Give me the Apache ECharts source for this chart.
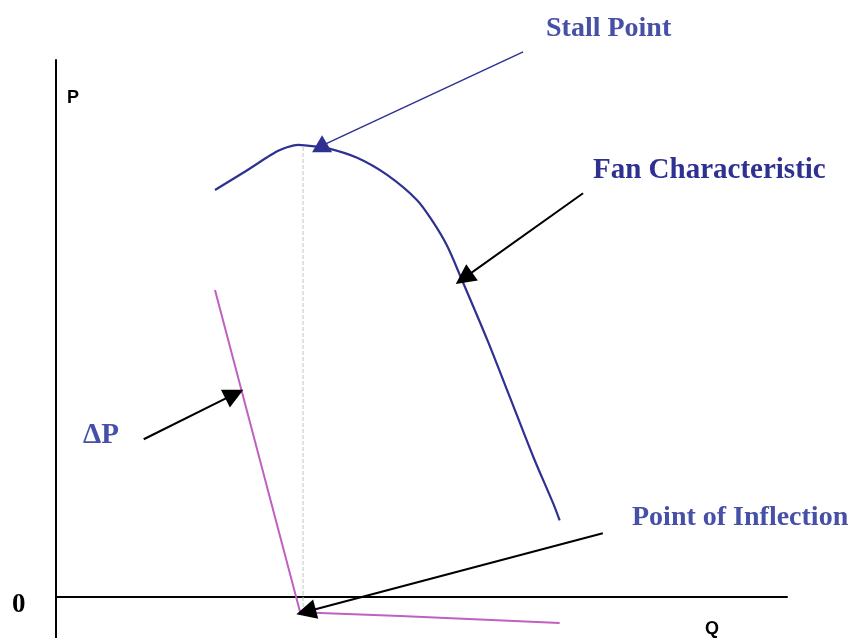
<!DOCTYPE html>
<html>
<head>
<meta charset="utf-8">
<script src="https://cdn.jsdelivr.net/npm/echarts@6/dist/echarts.min.js"></script>
<style>
html, body { margin: 0; padding: 0; background: #fff; }
#box1 { width: 851px; height: 638px; }
</style>
</head>
<body>
<div id="box1"></div>
<script>
var dom = document.getElementById("box1");
var myChart = echarts.init(dom);

// fan characteristic (Q, P)
var fanQ = [21.75, 25.6, 28.9, 30.4, 31.7, 33.1, 34.75, 37.1, 41.2, 45.3, 49.4, 51.6, 53.5, 55.3, 59.0, 62.1, 65.3, 68.0, 68.9];
var fanP = [75.8, 79.0, 81.9, 83.1, 83.8, 84.2, 84.0, 83.6, 81.8, 78.6, 73.9, 69.8, 65.4, 59.8, 47.9, 37.2, 26.1, 17.5, 14.3];

// pressure difference line
var dpQ = [21.75, 33.4, 47.1, 68.9];
var dpP = [57.2, -2.8, -3.5, -4.8];

// stall marker
var stallQ = 33.8;
var stallTop = 83.8;
var stallBottom = -3.2;

// annotation arrows [fromQ, fromP, toQ, toP]
var stallArrow = [63.9, 101.5, 36.6, 84.2];
var arrows = [
    [72.1, 75.2, 55.8, 59.4],
    [12.0, 29.4, 24.4, 37.8],
    [74.8, 11.9, 34.2, -2.7]
];

function zip(a, b) {
    var res = [];
    for (var i = 0; i < a.length; i++) {
        res.push([a[i], b[i]]);
    }
    return res;
}

var arrowData = arrows.map(function(a) {
    return { coords: [[a[0], a[1]], [a[2], a[3]]] };
});

var serifFont = '"Liberation Serif", "Times New Roman", serif';

option = {
    backgroundColor: '#fff',
    animation: false,
    grid: {
        left: 56,
        right: 64,
        top: 60,
        bottom: 0,
        containLabel: false
    },
    xAxis: {
        type: 'value',
        min: 0,
        max: 100,
        axisLine: { show: true, onZero: true, lineStyle: { color: '#000', width: 2 } },
        axisTick: { show: false },
        axisLabel: { show: false },
        splitLine: { show: false }
    },
    yAxis: {
        type: 'value',
        min: -7.6,
        max: 100,
        axisLine: { show: true, lineStyle: { color: '#000', width: 2 } },
        axisTick: { show: false },
        axisLabel: { show: false },
        splitLine: { show: false }
    },
    graphic: [
        { type: 'text', left: 546, top: 15, style: { text: 'Stall Point', font: 'bold 28px ' + serifFont, fill: '#4650a6' } },
        { type: 'text', left: 593, top: 156, style: { text: 'Fan Characteristic', font: 'bold 29px ' + serifFont, fill: '#2e3192' } },
        { type: 'text', left: 632, top: 504, style: { text: 'Point of Inflection', font: 'bold 28px ' + serifFont, fill: '#4650a6' } },
        { type: 'text', left: 83, top: 421, style: { text: 'ΔP', font: 'bold 29px ' + serifFont, fill: '#4650a6' } },
        { type: 'text', left: 12, top: 592, style: { text: '0', font: 'bold 27px ' + serifFont, fill: '#000' } },
        { type: 'text', left: 67, top: 89, style: { text: 'P', font: 'bold 18px "Liberation Sans", Arial, sans-serif', fill: '#000' } },
        { type: 'text', left: 705, top: 620, style: { text: 'Q', font: 'bold 18px "Liberation Sans", Arial, sans-serif', fill: '#000' } }
    ],
    series: [
        {
            name: 'stall',
            type: 'line',
            data: [[stallQ, stallTop], [stallQ, stallBottom]],
            symbol: 'none',
            lineStyle: { color: '#c4c4c4', width: 1, type: [4, 2] },
            z: 1
        },
        {
            name: 'Fan Characteristic',
            type: 'line',
            smooth: 0.3,
            data: zip(fanQ, fanP),
            symbol: 'none',
            lineStyle: { color: '#2e3192', width: 2.2 },
            z: 2
        },
        {
            name: 'ΔP',
            type: 'line',
            data: zip(dpQ, dpP),
            symbol: 'none',
            lineStyle: { color: '#c060c0', width: 2 },
            z: 2
        },
        {
            type: 'lines',
            coordinateSystem: 'cartesian2d',
            clip: false,
            silent: true,
            symbol: ['none', 'none'],
            lineStyle: { color: '#2e3192', width: 1.5, opacity: 1 },
            data: [{ coords: [[stallArrow[0], stallArrow[1]], [stallArrow[2], stallArrow[3]]] }],
            z: 3
        },
        {
            type: 'scatter',
            symbol: 'triangle',
            symbolSize: [20, 17],
            itemStyle: { color: '#2e3192', opacity: 1 },
            data: [[stallArrow[2] - 0.2, stallArrow[3] + 0.2]],
            silent: true,
            z: 4
        },
        {
            type: 'lines',
            coordinateSystem: 'cartesian2d',
            clip: false,
            silent: true,
            symbol: ['none', 'triangle'],
            symbolSize: 20,
            lineStyle: { color: '#000', width: 2, opacity: 1 },
            data: arrowData,
            z: 4
        }
    ]
};
if (option && typeof option === "object") {
    myChart.setOption(option, true);
}
</script>
</body>
</html>
